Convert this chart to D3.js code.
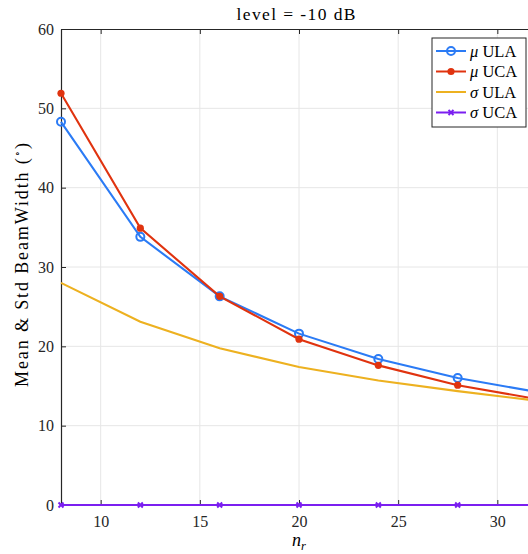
<!DOCTYPE html>
<html><head><meta charset="utf-8">
<script src="https://cdn.jsdelivr.net/npm/d3@7"></script>
<style>body{margin:0;background:#fff;} text{font-family:"Liberation Serif","DejaVu Serif",serif;}</style>
</head><body><svg id="c" width="528" height="554"></svg>
<script>
const nr = [8, 12, 16, 20, 24, 28, 32];
const muULA = [48.3, 33.8, 26.3, 21.6, 18.4, 16.0, 14.25];
const muUCA = [51.9, 34.9, 26.3, 20.9, 17.6, 15.1, 13.35];
const sigmaULA = [28.0, 23.1, 19.75, 17.4, 15.7, 14.35, 13.15];
const sigmaUCA = [0, 0, 0, 0, 0, 0, 0];
const xTicks = [10, 15, 20, 25, 30];
const yTicks = [0, 10, 20, 30, 40, 50, 60];

const svg = d3.select("#c");
const L = 61, R = 537, T = 29, B = 505;
const x = d3.scaleLinear().domain([8, 32]).range([L, R]);
const y = d3.scaleLinear().domain([0, 60]).range([B, T]);

// grid
svg.append("g").selectAll("line").data(xTicks).join("line")
  .attr("x1", d => x(d)).attr("x2", d => x(d)).attr("y1", T).attr("y2", B)
  .attr("stroke", "#e6e6e6").attr("stroke-width", 1);
svg.append("g").selectAll("line").data(yTicks.slice(1, -1)).join("line")
  .attr("x1", L).attr("x2", R).attr("y1", d => y(d)).attr("y2", d => y(d))
  .attr("stroke", "#e6e6e6").attr("stroke-width", 1);

// axes
const xAx = svg.append("g").attr("transform", `translate(0,${B})`)
  .call(d3.axisBottom(x).tickValues(xTicks).tickSize(-5).tickPadding(11).tickSizeOuter(0));
const xAxT = svg.append("g").attr("transform", `translate(0,${T})`)
  .call(d3.axisTop(x).tickValues(xTicks).tickSize(-5).tickFormat("").tickSizeOuter(0));
const yAx = svg.append("g").attr("transform", `translate(${L},0)`)
  .call(d3.axisLeft(y).tickValues(yTicks).tickSize(-5).tickPadding(7).tickSizeOuter(0));
[xAx, xAxT, yAx].forEach(g => {
  g.select(".domain").attr("stroke", "#262626").attr("stroke-width", 1.2);
  g.selectAll(".tick line").attr("stroke", "#262626");
  g.selectAll("text").attr("font-size", 16).attr("fill", "#262626")
    .attr("font-family", "Liberation Serif, serif");
});

// series
const series = [
  {name: "ULA", greek: "μ", vals: muULA, color: "#2b7bf5", marker: "circle"},
  {name: "UCA", greek: "μ", vals: muUCA, color: "#e0330f", marker: "dot"},
  {name: "ULA", greek: "σ", vals: sigmaULA, color: "#edb120", marker: "none"},
  {name: "UCA", greek: "σ", vals: sigmaUCA, color: "#7b1ff0", marker: "x"}
];
const line = d3.line().x((d, i) => x(nr[i])).y(d => y(d));

function drawMarker(g, type, cx, cy, color) {
  if (type === "circle") {
    g.append("circle").attr("cx", cx).attr("cy", cy).attr("r", 4)
      .attr("fill", "none").attr("stroke", color).attr("stroke-width", 2);
  } else if (type === "dot") {
    g.append("circle").attr("cx", cx).attr("cy", cy).attr("r", 3.6).attr("fill", color);
  } else if (type === "x") {
    const s = 2.5;
    g.append("path").attr("d", `M${cx-s},${cy-s}L${cx+s},${cy+s}M${cx-s},${cy+s}L${cx+s},${cy-s}`)
      .attr("stroke", color).attr("stroke-width", 2);
  }
}

series.forEach(s => {
  const g = svg.append("g");
  g.append("path").datum(s.vals).attr("d", line).attr("fill", "none")
    .attr("stroke", s.color).attr("stroke-width", 2.1);
  s.vals.forEach((v, i) => drawMarker(g, s.marker, x(nr[i]), y(v), s.color));
});

// title
svg.append("text").attr("x", 296).attr("y", 20).attr("text-anchor", "middle")
  .attr("font-size", 17.5).attr("fill", "#000")
  .attr("textLength", 119).attr("lengthAdjust", "spacing").text("level = -10 dB");

// x label
const xl = svg.append("text").attr("x", 299).attr("y", 546).attr("text-anchor", "middle")
  .attr("font-size", 18).attr("font-style", "italic");
xl.append("tspan").text("n");
xl.append("tspan").attr("font-size", 12.5).attr("dy", 4).text("r");

// y label
const yl = svg.append("text").attr("transform", "translate(28,265) rotate(-90)")
  .attr("text-anchor", "middle").attr("font-size", 18)
  .attr("textLength", 244).attr("lengthAdjust", "spacing");
yl.append("tspan").text("Mean & Std BeamWidth (");
yl.append("tspan").attr("font-size", 11).attr("dy", -7).text("∘");
yl.append("tspan").attr("dy", 7).text(")");

// legend
const lg = svg.append("g");
lg.append("rect").attr("x", 432).attr("y", 38).attr("width", 94).attr("height", 89)
  .attr("fill", "#fff").attr("stroke", "#262626").attr("stroke-width", 1);
series.forEach((s, i) => {
  const ly = 51 + i * 20.5;
  lg.append("line").attr("x1", 436).attr("x2", 466).attr("y1", ly).attr("y2", ly)
    .attr("stroke", s.color).attr("stroke-width", 2);
  drawMarker(lg, s.marker, 451, ly, s.color);
  const t = lg.append("text").attr("x", 470).attr("y", ly + 5.5).attr("font-size", 16.5);
  t.append("tspan").attr("font-style", "italic").text(s.greek);
  t.append("tspan").text(" " + s.name);
});
</script></body></html>
